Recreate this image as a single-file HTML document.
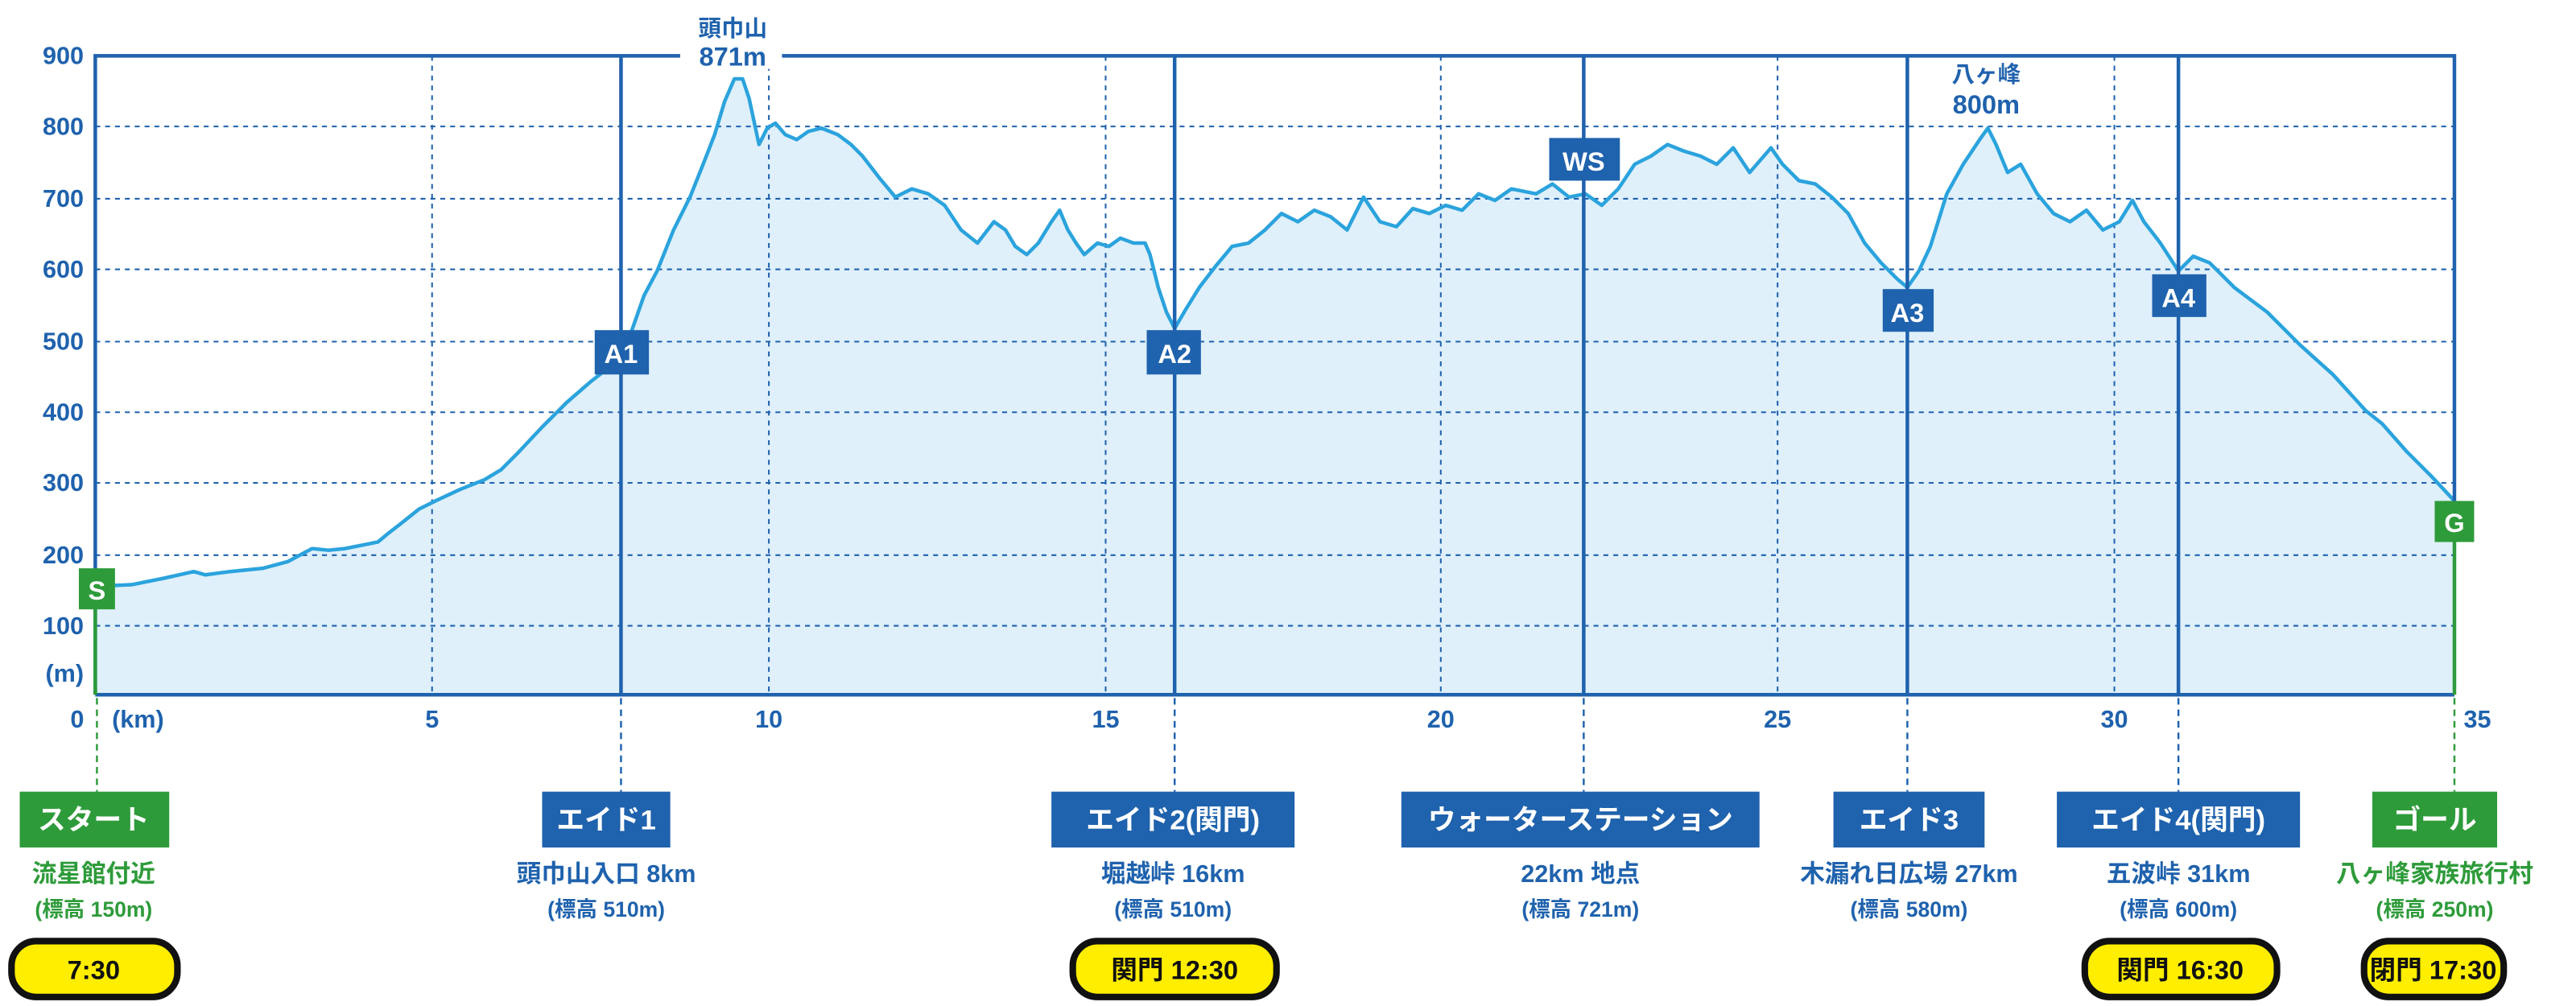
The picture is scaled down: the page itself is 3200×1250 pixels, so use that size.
<!DOCTYPE html>
<html><head><meta charset="utf-8"><style>
html,body{margin:0;padding:0;background:#fff;}
svg{display:block;}
text{font-family:"Liberation Sans","Noto Sans CJK JP",sans-serif;font-weight:bold;}
</style></head><body>
<svg width="3200" height="1250" viewBox="0 0 1568 612.5" xmlns="http://www.w3.org/2000/svg">
<!-- fill -->
<polygon fill="#dff0fb" points="58,423 58,357 80,356 100,352 118,348 125,350 140,348 160,346 175,342 190,334 200,335 210,334 220,332 230,330 236,325 245,318 255,310 265,305 280,298 295,292 305,286 315,276 330,260 345,245 360,232 378,218 385,200 392,180 400,165 410,140 420,120 428,100 435,82 441,62 447,48 452,48 456,60 462,88 467,78 472,75 478,82 485,85 492,80 500,78 505,80 510,82 518,88 525,95 535,108 545,120 555,115 565,118 575,125 585,140 595,148 605,135 612,140 618,150 625,155 632,148 640,135 645,128 650,140 655,148 660,155 668,148 675,150 682,145 690,148 697,148 700,155 705,175 710,190 715,200 722,188 730,175 740,162 750,150 760,148 770,140 780,130 790,135 800,128 810,132 820,140 830,120 840,135 850,138 860,127 870,130 880,125 890,128 900,118 910,122 920,115 935,118 945,112 955,120 965,118 975,125 985,115 995,100 1005,95 1015,88 1025,92 1035,95 1045,100 1055,90 1065,105 1078,90 1085,100 1095,110 1105,112 1115,120 1125,130 1135,148 1145,160 1155,170 1161,175 1168,165 1175,150 1185,118 1195,100 1205,85 1210,78 1215,88 1222,105 1230,100 1240,118 1250,130 1260,135 1270,128 1280,140 1290,135 1298,122 1305,135 1315,148 1326,165 1335,156 1345,160 1360,175 1380,190 1400,210 1420,228 1440,250 1450,258 1465,275 1480,290 1494,305 1494,423"/>
<!-- grid -->
<g stroke="#1f62ad" stroke-width="1" stroke-dasharray="3,3" fill="none">
<line x1="58" y1="77" x2="1494" y2="77"/><line x1="58" y1="121" x2="1494" y2="121"/><line x1="58" y1="164" x2="1494" y2="164"/><line x1="58" y1="208" x2="1494" y2="208"/><line x1="58" y1="251" x2="1494" y2="251"/><line x1="58" y1="294" x2="1494" y2="294"/><line x1="58" y1="338" x2="1494" y2="338"/><line x1="58" y1="381" x2="1494" y2="381"/>
<line x1="263" y1="34" x2="263" y2="423"/><line x1="468" y1="34" x2="468" y2="423"/><line x1="673" y1="34" x2="673" y2="423"/><line x1="877" y1="34" x2="877" y2="423"/><line x1="1082" y1="34" x2="1082" y2="423"/><line x1="1287" y1="34" x2="1287" y2="423"/>
</g>
<!-- profile line -->
<polyline fill="none" stroke="#2ba3dd" stroke-width="2.2" stroke-linejoin="round" points="58,357 80,356 100,352 118,348 125,350 140,348 160,346 175,342 190,334 200,335 210,334 220,332 230,330 236,325 245,318 255,310 265,305 280,298 295,292 305,286 315,276 330,260 345,245 360,232 378,218 385,200 392,180 400,165 410,140 420,120 428,100 435,82 441,62 447,48 452,48 456,60 462,88 467,78 472,75 478,82 485,85 492,80 500,78 505,80 510,82 518,88 525,95 535,108 545,120 555,115 565,118 575,125 585,140 595,148 605,135 612,140 618,150 625,155 632,148 640,135 645,128 650,140 655,148 660,155 668,148 675,150 682,145 690,148 697,148 700,155 705,175 710,190 715,200 722,188 730,175 740,162 750,150 760,148 770,140 780,130 790,135 800,128 810,132 820,140 830,120 840,135 850,138 860,127 870,130 880,125 890,128 900,118 910,122 920,115 935,118 945,112 955,120 965,118 975,125 985,115 995,100 1005,95 1015,88 1025,92 1035,95 1045,100 1055,90 1065,105 1078,90 1085,100 1095,110 1105,112 1115,120 1125,130 1135,148 1145,160 1155,170 1161,175 1168,165 1175,150 1185,118 1195,100 1205,85 1210,78 1215,88 1222,105 1230,100 1240,118 1250,130 1260,135 1270,128 1280,140 1290,135 1298,122 1305,135 1315,148 1326,165 1335,156 1345,160 1360,175 1380,190 1400,210 1420,228 1440,250 1450,258 1465,275 1480,290 1494,305"/>
<!-- frame -->
<g stroke="#1f62ad" stroke-width="2.2" fill="none">
<polyline points="58,423 58,34 1494,34 1494,310"/>
<line x1="58" y1="423" x2="1494" y2="423"/>
<line x1="378" y1="34" x2="378" y2="423"/><line x1="715" y1="34" x2="715" y2="423"/><line x1="964" y1="34" x2="964" y2="423"/><line x1="1161" y1="34" x2="1161" y2="423"/><line x1="1326" y1="34" x2="1326" y2="423"/>
</g>
<line x1="58" y1="360" x2="58" y2="423" stroke="#2e9b3a" stroke-width="2.2"/>
<line x1="1494" y1="320" x2="1494" y2="423" stroke="#2e9b3a" stroke-width="2.2"/>
<!-- dashed connectors -->
<g stroke-width="1.2" stroke-dasharray="4,3">
<line x1="59" y1="425" x2="59" y2="482" stroke="#2e9b3a"/>
<line x1="378" y1="425" x2="378" y2="482" stroke="#1f62ad"/>
<line x1="715" y1="425" x2="715" y2="482" stroke="#1f62ad"/>
<line x1="964" y1="425" x2="964" y2="482" stroke="#1f62ad"/>
<line x1="1161" y1="425" x2="1161" y2="482" stroke="#1f62ad"/>
<line x1="1326" y1="425" x2="1326" y2="482" stroke="#1f62ad"/>
<line x1="1494" y1="425" x2="1494" y2="482" stroke="#2e9b3a"/>
</g>
<!-- peak labels -->
<rect x="414" y="26" width="62" height="16" fill="#fff"/>
<g fill="#1f62ad" text-anchor="middle">
<text x="446" y="22" font-size="14">頭巾山</text>
<text x="446" y="40" font-size="16">871m</text>
<text x="1209" y="50" font-size="14">八ヶ峰</text>
<text x="1209" y="69" font-size="16">800m</text>
</g>
<!-- y labels -->
<g fill="#1f62ad" font-size="15" text-anchor="end">
<text x="51" y="39">900</text><text x="51" y="82">800</text><text x="51" y="126">700</text><text x="51" y="169">600</text><text x="51" y="213">500</text><text x="51" y="256">400</text><text x="51" y="299">300</text><text x="51" y="343">200</text><text x="51" y="386">100</text><text x="51" y="415">(m)</text>
</g>
<g fill="#1f62ad" font-size="15" text-anchor="middle">
<text x="47" y="443">0</text><text x="84" y="443">(km)</text><text x="263" y="443">5</text><text x="468" y="443">10</text><text x="673" y="443">15</text><text x="877" y="443">20</text><text x="1082" y="443">25</text><text x="1287" y="443">30</text><text x="1508" y="443">35</text>
</g>
<!-- markers -->
<g font-size="16" fill="#fff" text-anchor="middle">
<rect x="48" y="346" width="22" height="25" fill="#2e9b3a"/><text x="59" y="365">S</text>
<rect x="362" y="201" width="33" height="27" fill="#1f62ad"/><text x="378" y="221">A1</text>
<rect x="698" y="201" width="33" height="27" fill="#1f62ad"/><text x="715" y="221">A2</text>
<rect x="943" y="84" width="43" height="26" fill="#1f62ad"/><text x="964" y="104">WS</text>
<rect x="1146" y="176" width="31" height="26" fill="#1f62ad"/><text x="1161" y="196">A3</text>
<rect x="1310" y="167" width="33" height="26" fill="#1f62ad"/><text x="1326" y="187">A4</text>
<rect x="1482" y="305" width="24" height="25" fill="#2e9b3a"/><text x="1494" y="324">G</text>
</g>
<!-- bottom boxes -->
<g font-size="17" fill="#fff" text-anchor="middle">
<rect x="12" y="482" width="91" height="34" fill="#2e9b3a"/><text x="57" y="505">スタート</text>
<rect x="330" y="482" width="78" height="34" fill="#1f62ad"/><text x="369" y="505">エイド1</text>
<rect x="640" y="482" width="148" height="34" fill="#1f62ad"/><text x="714" y="505">エイド2(関門)</text>
<rect x="853" y="482" width="218" height="34" fill="#1f62ad"/><text x="962" y="505">ウォーターステーション</text>
<rect x="1116" y="482" width="92" height="34" fill="#1f62ad"/><text x="1162" y="505">エイド3</text>
<rect x="1252" y="482" width="148" height="34" fill="#1f62ad"/><text x="1326" y="505">エイド4(関門)</text>
<rect x="1444" y="482" width="76" height="34" fill="#2e9b3a"/><text x="1482" y="505">ゴール</text>
</g>
<g font-size="15" text-anchor="middle">
<text x="57" y="537" fill="#2e9b3a">流星館付近</text><text x="57" y="558" fill="#2e9b3a" font-size="13">(標高 150m)</text>
<text x="369" y="537" fill="#1f62ad">頭巾山入口 8km</text><text x="369" y="558" fill="#1f62ad" font-size="13">(標高 510m)</text>
<text x="714" y="537" fill="#1f62ad">堀越峠 16km</text><text x="714" y="558" fill="#1f62ad" font-size="13">(標高 510m)</text>
<text x="962" y="537" fill="#1f62ad">22km 地点</text><text x="962" y="558" fill="#1f62ad" font-size="13">(標高 721m)</text>
<text x="1162" y="537" fill="#1f62ad">木漏れ日広場 27km</text><text x="1162" y="558" fill="#1f62ad" font-size="13">(標高 580m)</text>
<text x="1326" y="537" fill="#1f62ad">五波峠 31km</text><text x="1326" y="558" fill="#1f62ad" font-size="13">(標高 600m)</text>
<text x="1482" y="537" fill="#2e9b3a">八ヶ峰家族旅行村</text><text x="1482" y="558" fill="#2e9b3a" font-size="13">(標高 250m)</text>
</g>
<!-- pills -->
<g stroke="#111" stroke-width="4" fill="#ffee00">
<rect x="7" y="573" width="101" height="34" rx="15"/>
<rect x="653" y="573" width="124" height="34" rx="15"/>
<rect x="1269" y="573" width="117" height="34" rx="15"/>
<rect x="1439" y="573" width="85" height="34" rx="15"/>
</g>
<g font-size="16" fill="#111" text-anchor="middle">
<text x="57" y="596">7:30</text>
<text x="715" y="596">関門 12:30</text>
<text x="1327" y="596">関門 16:30</text>
<text x="1481" y="596">閉門 17:30</text>
</g>
</svg>
</body></html>
